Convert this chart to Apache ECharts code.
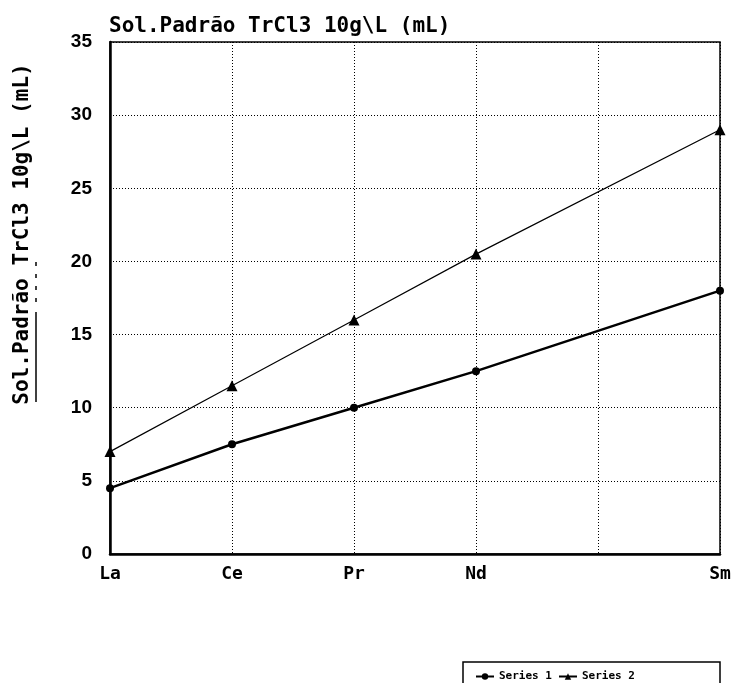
<!DOCTYPE html>
<html>
<head>
<meta charset="utf-8">
<script src="https://cdn.jsdelivr.net/npm/echarts@6/dist/echarts.min.js"></script>
<style>
  html, body { margin: 0; padding: 0; background: #fff; }
  #chart { width: 734px; height: 683px; }
</style>
</head>
<body>
<div id="chart"></div>
<script>
// Atomic numbers of the rare-earth elements along the x axis (Pm left unlabeled)
const atomicNumbers = [57, 58, 59, 60, 62];
const elementLabels = { 57: 'La', 58: 'Ce', 59: 'Pr', 60: 'Nd', 61: '', 62: 'Sm' };
const series1Values = [4.5, 7.5, 10, 12.5, 18];
const series2Values = [7, 11.5, 16, 20.5, 29];
const yTicks = [0, 5, 10, 15, 20, 25, 30, 35];
const titleText = 'Sol.Padrão TrCl3 10g\\L (mL)';

const chart = echarts.init(document.getElementById('chart'));

const pairs = (vals) => atomicNumbers.map((x, i) => [x, vals[i]]);
const mono = '"DejaVu Sans Mono", monospace';

chart.setOption({
  backgroundColor: '#fff',
  animation: false,
  title: {
    text: titleText,
    left: 104,
    top: 11,
    textStyle: { fontFamily: mono, fontSize: 21, fontWeight: 'bold', color: '#000' }
  },
  grid: {
    left: 110, right: 14, top: 42, bottom: 129,
    show: true, borderColor: '#000', borderWidth: 1.5, backgroundColor: 'transparent'
  },
  xAxis: {
    type: 'value',
    min: 57, max: 62, interval: 1,
    axisLine: { show: true, lineStyle: { color: '#000', width: 2.5 } },
    axisTick: { show: false },
    splitLine: { show: true, lineStyle: { color: '#000', type: [1, 2], width: 1 } },
    axisLabel: {
      formatter: (v) => elementLabels[v] || '',
      color: '#000', fontFamily: mono, fontWeight: 'bold', fontSize: 18, margin: 11
    }
  },
  yAxis: {
    type: 'value',
    min: yTicks[0], max: yTicks[yTicks.length - 1], interval: 5,
    axisLine: { show: true, lineStyle: { color: '#000', width: 2.5 } },
    axisTick: { show: false },
    splitLine: { show: true, lineStyle: { color: '#000', type: [1, 2], width: 1 } },
    axisLabel: {
      color: '#000', fontFamily: '"Liberation Sans", Arial, sans-serif',
      fontWeight: 'bold', fontSize: 19, margin: 18
    }
  },
  legend: {
    left: 470, top: 666,
    itemWidth: 18, itemHeight: 8, itemGap: 6,
    textStyle: { fontFamily: mono, fontWeight: 'bold', fontSize: 11, color: '#000' },
    data: ['Series 1', 'Series 2']
  },
  graphic: [
    {
      type: 'rect',
      shape: { x: 463, y: 662, width: 257, height: 40 },
      style: { fill: 'none', stroke: '#000', lineWidth: 1.5 },
      silent: true
    },
    {
      type: 'text',
      x: 23, y: 234, rotation: Math.PI / 2,
      style: {
        text: titleText, fill: '#000', fontFamily: mono, fontSize: 21, fontWeight: 'bold',
        align: 'center', verticalAlign: 'middle'
      }
    },
    {
      type: 'line',
      shape: { x1: 36, y1: 312, x2: 36, y2: 402 },
      style: { stroke: '#000', lineWidth: 1.5 }
    },
    {
      type: 'line',
      shape: { x1: 36, y1: 262, x2: 36, y2: 302 },
      style: { stroke: '#000', lineWidth: 1.5, lineDash: [4, 8] }
    }
  ],
  series: [
    {
      name: 'Series 1',
      type: 'line',
      data: pairs(series1Values),
      symbol: 'circle', symbolSize: 8,
      lineStyle: { color: '#000', width: 2.5 },
      itemStyle: { color: '#000' },
      z: 3
    },
    {
      name: 'Series 2',
      type: 'line',
      data: pairs(series2Values),
      symbol: 'triangle', symbolSize: 11,
      lineStyle: { color: '#000', width: 1.2 },
      itemStyle: { color: '#000' },
      z: 3
    }
  ]
});
</script>
</body>
</html>
